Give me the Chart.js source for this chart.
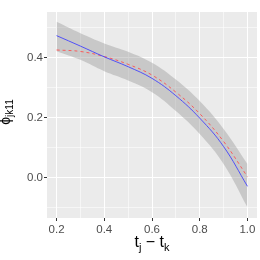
<!DOCTYPE html>
<html>
<head>
<meta charset="utf-8">
<script src="https://cdn.jsdelivr.net/npm/chart.js@4/dist/chart.umd.min.js"></script>
<style>
html,body{margin:0;padding:0;background:#fff;}
#wrap{width:260px;height:260px;position:relative;}
</style>
</head>
<body>
<div id="wrap"><canvas id="c" width="260" height="260"></canvas></div>
<script>
// ---- data ----
const xValues   = [0.2, 0.3, 0.4, 0.5, 0.6, 0.7, 0.8, 0.9, 1.0];
const fitted    = [0.474, 0.439, 0.403, 0.370, 0.331, 0.273, 0.198, 0.103, -0.030];
const truth     = [0.426, 0.421, 0.404, 0.378, 0.342, 0.285, 0.213, 0.120, 0.002];
const bandUpper = [0.520, 0.482, 0.448, 0.420, 0.383, 0.327, 0.255, 0.162, 0.045];
const bandLower = [0.422, 0.393, 0.355, 0.324, 0.285, 0.222, 0.145, 0.045, -0.100];
const xMajorTicks = [0.2, 0.4, 0.6, 0.8, 1.0];
const xMinorTicks = [0.3, 0.5, 0.7, 0.9];
const yMajorTicks = [0.0, 0.2, 0.4];
const yMinorTicks = [-0.1, 0.1, 0.3, 0.5];
const xTickLabels = ['0.2', '0.4', '0.6', '0.8', '1.0'];
const yTickLabels = ['0.0', '0.2', '0.4'];

const FONT = '"Liberation Sans", Arial, Helvetica, sans-serif';
const isMajor = (arr, v) => arr.some(m => Math.abs(m - v) < 1e-6);
const labelFor = (majors, labels, v) => {
  const i = majors.findIndex(m => Math.abs(m - v) < 1e-6);
  return i >= 0 ? labels[i] : '';
};
const pts = ys => xValues.map((x, i) => ({x: x, y: ys[i]}));

const titlePlugin = {
  id: 'titles',
  beforeDraw(chart) {
    const {ctx, chartArea: a} = chart;
    ctx.save();
    ctx.fillStyle = '#ebebeb';
    ctx.fillRect(a.left, a.top, a.right - a.left, a.bottom - a.top);
    ctx.restore();
  },
  afterDraw(chart) {
    const {ctx, chartArea: a} = chart;
    ctx.save();
    ctx.fillStyle = '#000';
    ctx.textBaseline = 'alphabetic';
    // x title: t_j - t_k
    const big = '16px ' + FONT, small = '11px ' + FONT;
    const parts = [
      {t: 't', f: big, dy: 0},
      {t: 'j', f: small, dy: 4},
      {t: ' \u2212 ', f: big, dy: 0},
      {t: 't', f: big, dy: 0},
      {t: 'k', f: small, dy: 4}
    ];
    let w = 0;
    parts.forEach(p => { ctx.font = p.f; p.w = ctx.measureText(p.t).width; w += p.w; });
    let x = (a.left + a.right) / 2 - w / 2;
    const base = 247;
    parts.forEach(p => { ctx.font = p.f; ctx.fillText(p.t, x, base + p.dy); x += p.w; });

    // y title: phi_{jk11}, rotated
    ctx.translate(10, 112);
    ctx.rotate(-Math.PI / 2);
    const yparts = [
      {t: '\u03D5', f: '14px ' + FONT, dy: 0},
      {t: 'jk11', f: '10px ' + FONT, dy: 3}
    ];
    let yw = 0;
    yparts.forEach(p => { ctx.font = p.f; p.w = ctx.measureText(p.t).width; yw += p.w; });
    let yx = -yw / 2;
    yparts.forEach(p => { ctx.font = p.f; ctx.fillText(p.t, yx, p.dy); yx += p.w; });
    ctx.restore();
  }
};

new Chart(document.getElementById('c'), {
  type: 'line',
  data: {
    datasets: [
      {label: 'fitted', data: pts(fitted), borderColor: 'rgba(60,60,255,0.85)', borderWidth: 1,
       pointRadius: 0, fill: false, tension: 0.4},
      {label: 'true', data: pts(truth), borderColor: 'rgba(255,80,80,0.9)', borderWidth: 1,
       borderDash: [3, 3], pointRadius: 0, fill: false, tension: 0.4},
      {label: 'upper', data: pts(bandUpper), borderWidth: 0, borderColor: 'rgba(0,0,0,0)',
       backgroundColor: 'rgba(153,153,153,0.42)', pointRadius: 0, fill: '+1', tension: 0.4},
      {label: 'lower', data: pts(bandLower), borderWidth: 0, borderColor: 'rgba(0,0,0,0)',
       pointRadius: 0, fill: false, tension: 0.4}
    ]
  },
  options: {
    responsive: false,
    animation: false,
    devicePixelRatio: 1,
    layout: {padding: {top: 12, right: 3, left: 0, bottom: 0}},
    plugins: {legend: {display: false}, tooltip: {enabled: false}},
    scales: {
      x: {
        type: 'linear', min: 0.16, max: 1.04,
        afterBuildTicks: s => { s.ticks = [...xMajorTicks, ...xMinorTicks].sort((a,b)=>a-b).map(v => ({value: v})); },
        afterFit: s => { s.height = 42; },
        border: {display: false},
        grid: {
          color: c => isMajor(xMajorTicks, c.tick.value) ? '#ffffff' : 'rgba(255,255,255,0.55)',
          lineWidth: 1,
          tickLength: 3,
          tickColor: c => isMajor(xMajorTicks, c.tick.value) ? '#333333' : 'rgba(0,0,0,0)'
        },
        ticks: {
          autoSkip: false, maxRotation: 0, padding: 2,
          color: '#4d4d4d', font: {family: FONT, size: 11.5},
          callback: v => labelFor(xMajorTicks, xTickLabels, v)
        }
      },
      y: {
        type: 'linear', min: -0.136, max: 0.553,
        afterBuildTicks: s => { s.ticks = [...yMajorTicks, ...yMinorTicks].sort((a,b)=>a-b).map(v => ({value: v})); },
        afterFit: s => { s.width = 47; },
        border: {display: false},
        grid: {
          color: c => isMajor(yMajorTicks, c.tick.value) ? '#ffffff' : 'rgba(255,255,255,0.55)',
          lineWidth: 1,
          tickLength: 3,
          tickColor: c => isMajor(yMajorTicks, c.tick.value) ? '#333333' : 'rgba(0,0,0,0)'
        },
        ticks: {
          autoSkip: false, padding: 1,
          color: '#4d4d4d', font: {family: FONT, size: 11.5},
          callback: v => labelFor(yMajorTicks, yTickLabels, v)
        }
      }
    }
  },
  plugins: [titlePlugin]
});
</script>
</body>
</html>
